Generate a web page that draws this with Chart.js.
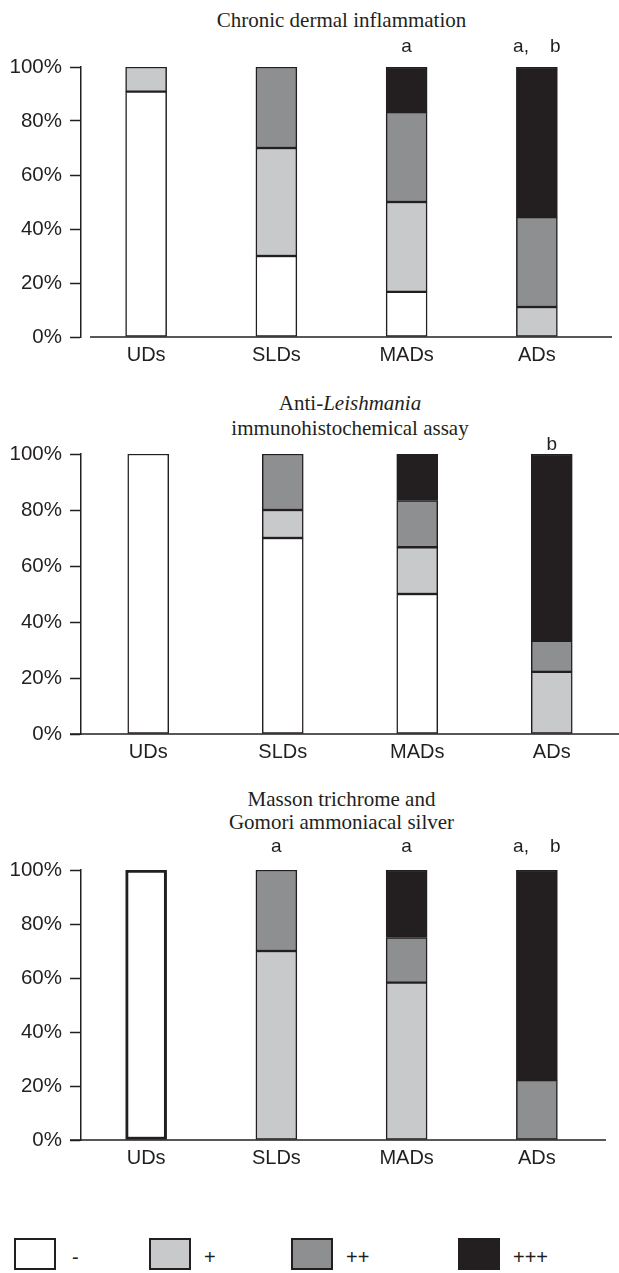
<!DOCTYPE html>
<html>
<head>
<meta charset="utf-8">
<script src="https://cdn.jsdelivr.net/npm/chart.js@4.4.0/dist/chart.umd.min.js"></script>
<style>
  body { margin: 0; background: #fff; }
  #page { position: relative; width: 619px; height: 1273px; overflow: hidden; }
  canvas { position: absolute; left: 0; }
  .ttl { position: absolute; text-align: center; font-family: "Liberation Serif", "Times New Roman", serif;
         font-size: 21px; color: #231f20; }
  .leg { position: absolute; top: 1238px; font-family: "Liberation Sans", Arial, sans-serif; font-size: 20px; color: #231f20; }
  .leg span.box { position: absolute; top: 0; width: 38px; height: 28px; border: 2px solid #231f20; }
  .leg span.txt { position: absolute; top: 8px; white-space: nowrap; }
</style>
</head>
<body>
<div id="page">
  <div class="ttl" style="left:81px;width:521px;top:8px;line-height:24px">Chronic dermal inflammation</div>
  <canvas id="ch1" width="619" height="377" style="top:0"></canvas>

  <div class="ttl" style="left:81px;width:538px;top:391px;line-height:25px">Anti-<i>Leishmania</i><br>immunohistochemical assay</div>
  <canvas id="ch2" width="619" height="394" style="top:380px"></canvas>

  <div class="ttl" style="left:81px;width:521px;top:788px;line-height:23px">Masson trichrome and<br>Gomori ammoniacal silver</div>
  <canvas id="ch3" width="619" height="400" style="top:780px"></canvas>

  <div id="legend"></div>
</div>
<script>
// groups and grades
var categories = ["UDs", "SLDs", "MADs", "ADs"];
var grades = ["-", "+", "++", "+++"];
var gradeColors = ["#ffffff", "#c8c9cb", "#8e8f91", "#231f20"];

// chronic dermal inflammation (% of dogs)
var inflNeg = [90.9, 30, 16.7, 0];
var inflPlus = [9.1, 40, 33.3, 11.1];
var inflPlus2 = [0, 30, 33.3, 33.3];
var inflPlus3 = [0, 0, 16.7, 55.6];
var inflMarks = ["", "", "a", "a,    b"];

// anti-Leishmania immunohistochemistry
var ihcNeg = [100, 70, 50, 0];
var ihcPlus = [0, 10, 16.7, 22.2];
var ihcPlus2 = [0, 20, 16.7, 11.1];
var ihcPlus3 = [0, 0, 16.7, 66.7];
var ihcMarks = ["", "", "", "b"];

// masson trichrome / gomori silver
var fibNeg = [100, 0, 0, 0];
var fibPlus = [0, 70, 58.3, 0];
var fibPlus2 = [0, 30, 16.7, 22.2];
var fibPlus3 = [0, 0, 25, 77.8];
var fibMarks = ["", "a", "a", "a,    b"];

var ink = "#231f20";
var sans = "'Liberation Sans', Arial, sans-serif";

// x axis line + letters above bars
var extras = {
  id: "extras",
  afterDatasetsDraw: function (chart, args, opts) {
    var ctx = chart.ctx, area = chart.chartArea, xs = chart.scales.x;
    ctx.save();
    ctx.strokeStyle = ink;
    ctx.lineWidth = 1.5;
    ctx.beginPath();
    ctx.moveTo(opts.lineFrom, area.bottom);
    ctx.lineTo(opts.lineTo, area.bottom);
    ctx.stroke();
    ctx.fillStyle = ink;
    ctx.font = "19px " + sans;
    ctx.textAlign = "center";
    ctx.textBaseline = "alphabetic";
    opts.marks.forEach(function (m, i) {
      if (m) ctx.fillText(m, xs.getPixelForValue(i), area.top - opts.markGap);
    });
    ctx.restore();
  },
};

function makeChart(id, series, opts) {
  var datasets = series.map(function (vals, k) {
    return {
      label: grades[k],
      data: vals.map(function (v) { return v === 0 ? null : v; }),
      backgroundColor: gradeColors[k],
      borderColor: ink,
      borderWidth: k === 0 ? opts.negBorder : 1.5,
      borderSkipped: false,
      barThickness: 41,
    };
  });
  return new Chart(document.getElementById(id), {
    type: "bar",
    data: { labels: categories, datasets: datasets },
    plugins: [extras],
    options: {
      responsive: false,
      animation: false,
      layout: { padding: { top: opts.top, right: opts.right, left: 0, bottom: 0 } },
      plugins: {
        legend: { display: false },
        tooltip: { enabled: false },
        extras: { marks: opts.marks, markGap: opts.markGap, lineFrom: opts.lineFrom, lineTo: opts.lineTo },
      },
      scales: {
        x: {
          stacked: true,
          grid: { display: false, drawTicks: false },
          border: { display: false },
          ticks: { color: ink, padding: 6, font: { family: sans, size: 20 } },
          afterFit: function (s) { s.height = 40; },
        },
        y: {
          stacked: true,
          min: 0,
          max: 100,
          ticks: {
            stepSize: 20,
            padding: 8,
            color: ink,
            font: { family: sans, size: 20.5 },
            callback: function (v) { return v + "%"; },
          },
          grid: { drawOnChartArea: false, tickLength: 11, tickColor: ink, tickWidth: 1.5 },
          border: { color: ink, width: 1.5 },
          afterFit: function (s) { s.width = 81; },
        },
      },
    },
  });
}

makeChart("ch1", [inflNeg, inflPlus, inflPlus2, inflPlus3],
  { top: 67, right: 17, marks: inflMarks, markGap: 15, lineFrom: 90, lineTo: 612, negBorder: 1.5 });
makeChart("ch2", [ihcNeg, ihcPlus, ihcPlus2, ihcPlus3],
  { top: 74, right: 0, marks: ihcMarks, markGap: 4, lineFrom: 70, lineTo: 619, negBorder: 1.5 });
makeChart("ch3", [fibNeg, fibPlus, fibPlus2, fibPlus3],
  { top: 90, right: 17, marks: fibMarks, markGap: 18, lineFrom: 70, lineTo: 606, negBorder: 3 });

// legend
var legX = [14, 149, 291, 458];
var legHtml = "";
grades.forEach(function (g, i) {
  legHtml += '<div class="leg" style="left:' + legX[i] + 'px">' +
    '<span class="box" style="background:' + gradeColors[i] + '"></span>' +
    '<span class="txt" style="left:' + (i === 0 ? 58 : 55) + 'px">' + g + "</span></div>";
});
document.getElementById("legend").innerHTML = legHtml;
</script>
</body>
</html>
